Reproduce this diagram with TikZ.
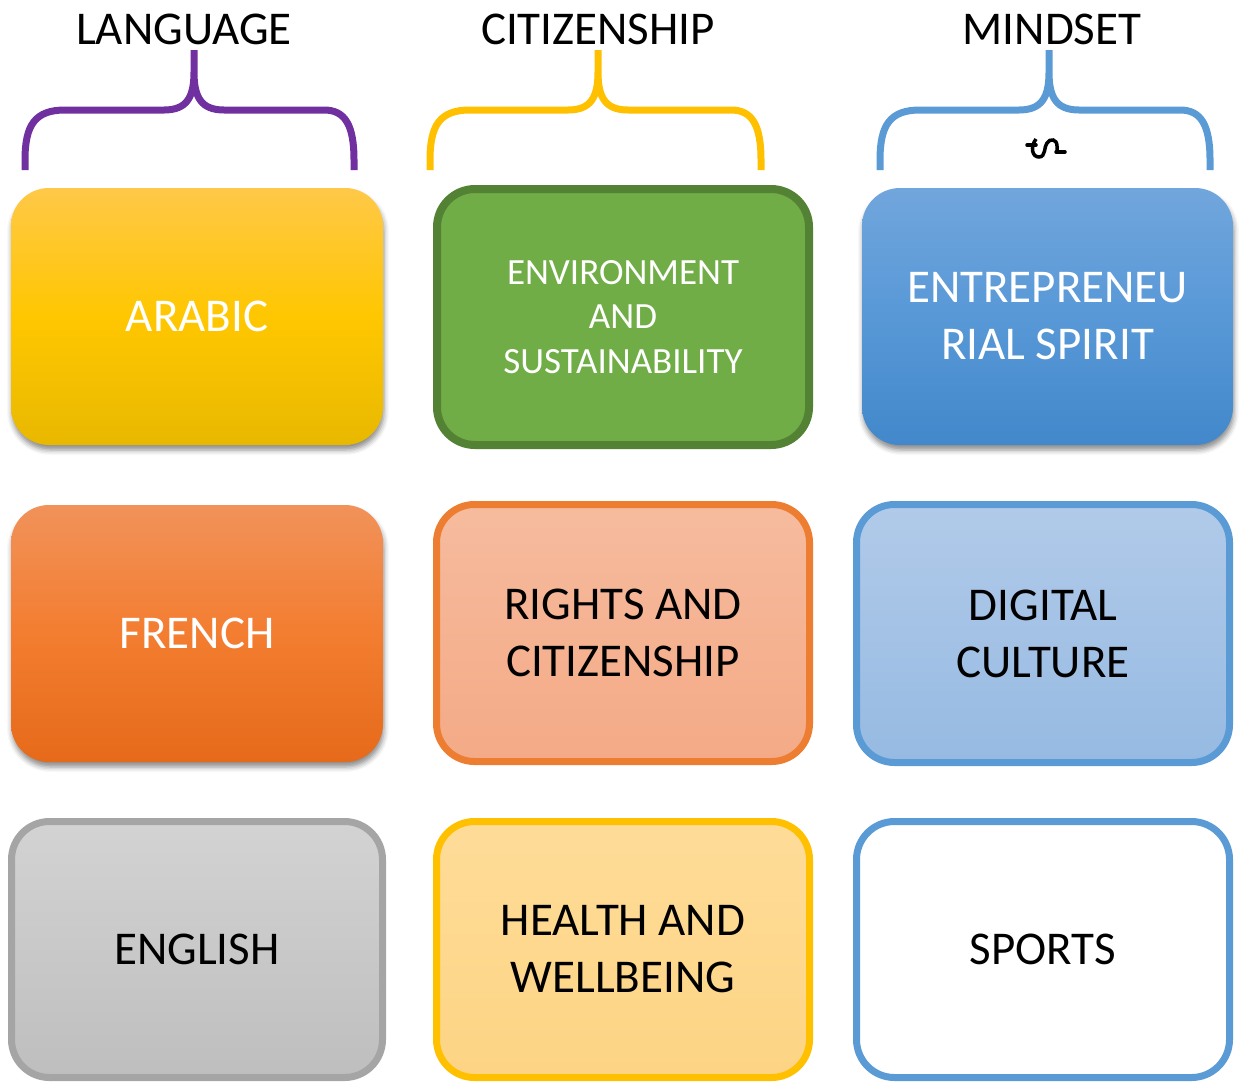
\documentclass[tikz,border=0pt]{standalone}
\usepackage{fontspec}
\setmainfont{Carlito}
\usetikzlibrary{shadows.blur}
\definecolor{cpurple}{RGB}{112,48,160}
\definecolor{cyellow}{RGB}{255,192,0}
\definecolor{cblue}{RGB}{91,155,213}
\definecolor{cgreen}{RGB}{112,173,71}
\definecolor{cdgreen}{RGB}{84,130,53}
\definecolor{corange}{RGB}{237,125,49}
\definecolor{cgray}{RGB}{165,165,165}
\tikzset{
  box/.style={rectangle, rounded corners=38pt, align=center, inner sep=0pt,
    font=\fontsize{47}{57}\selectfont},
  shadowed/.style={blur shadow={shadow xshift=1pt, shadow yshift=-5pt,
    shadow blur radius=5pt, shadow opacity=45}},
  brace/.style={line width=7pt},
  title/.style={anchor=base, font=\fontsize{47}{57}\selectfont},
}
\begin{document}
\begin{tikzpicture}[x=1pt,y=-1pt]
\useasboundingbox (0,0) rectangle (1241,1088);
% titles
\node[title] (tlang) at (184,44) {LANGUAGE};
\node[title] (tcit) at (598,44) {CITIZENSHIP};
\node[title] (tmind) at (1052,44) {MINDSET};
% braces
\draw[brace, cpurple] (25,170) -- (25,160) .. controls (25,125) and (35,110) .. (65,110)
  -- (164,110) .. controls (187,110) and (194,97) .. (194,72) -- (194,50)
  (194,72) .. controls (194,97) and (201,110) .. (224,110) -- (324,110)
  .. controls (345,110) and (354,125) .. (354,160) -- (354,170);
\draw[brace, cyellow] (430,170) -- (430,160) .. controls (430,125) and (440,110) .. (470,110)
  -- (568,110) .. controls (591,110) and (598,97) .. (598,72) -- (598,50)
  (598,72) .. controls (598,97) and (605,110) .. (628,110) -- (731,110)
  .. controls (752,110) and (761,125) .. (761,160) -- (761,170);
\draw[brace, cblue] (880,170) -- (880,160) .. controls (880,125) and (890,110) .. (920,110)
  -- (1019,110) .. controls (1042,110) and (1049,97) .. (1049,72) -- (1049,50)
  (1049,72) .. controls (1049,97) and (1056,110) .. (1079,110) -- (1180,110)
  .. controls (1201,110) and (1210,125) .. (1210,160) -- (1210,170);
% small mark
\draw[line width=3.5pt, line cap=round] (1027,145) -- (1036,145);
\draw[line width=3.5pt] (1036,139) .. controls (1030,147) and (1032,157) .. (1039,157)
  .. controls (1046,157) and (1044,146) .. (1047,143)
  .. controls (1050,138) and (1057,139) .. (1057,146) -- (1057,152);
\draw[line width=3.5pt, line cap=round] (1056,152) -- (1065,152);
% row 1
\node[box, shadowed, top color={rgb,255:red,255;green,200;blue,72},
  bottom color={rgb,255:red,232;green,184;blue,0}, middle color={rgb,255:red,255;green,199;blue,0},
  minimum width=372pt, minimum height=257pt, text=white] (arabic) at (197,316.5) {ARABIC};
\node[box, fill=cgreen, draw=cdgreen, line width=8pt,
  minimum width=372pt, minimum height=256pt, text=white,
  font=\fontsize{37}{44.5}\selectfont] (env) at (623,317) {ENVIRONMENT\\AND\\SUSTAINABILITY};
\node[box, shadowed, top color={rgb,255:red,113;green,166;blue,220},
  bottom color={rgb,255:red,66;green,136;blue,202}, middle color={rgb,255:red,88;green,152;blue,215},
  minimum width=371pt, minimum height=257pt, text=white] (entre) at (1047.5,316.5) {ENTREPRENEU\\RIAL SPIRIT};
% row 2
\node[box, shadowed, top color={rgb,255:red,241;green,146;blue,90},
  bottom color={rgb,255:red,230;green,106;blue,26}, middle color={rgb,255:red,243;green,125;blue,48},
  minimum width=372pt, minimum height=257pt, text=white] (french) at (197,633.5) {FRENCH};
\node[box, top color={rgb,255:red,246;green,187;blue,158},
  bottom color={rgb,255:red,244;green,170;blue,134}, draw=corange, line width=7pt,
  minimum width=373pt, minimum height=257pt] (rights) at (623,633) {RIGHTS AND\\CITIZENSHIP};
\node[box, top color={rgb,255:red,177;green,202;blue,233},
  bottom color={rgb,255:red,150;green,186;blue,226}, draw=cblue, line width=7pt,
  minimum width=373pt, minimum height=258pt] (digital) at (1043,633.5) {DIGITAL\\CULTURE};
% row 3
\node[box, top color={rgb,255:red,211;green,211;blue,211},
  bottom color={rgb,255:red,190;green,190;blue,190}, draw=cgray, line width=7pt,
  minimum width=371pt, minimum height=256pt] (english) at (197,949.5) {ENGLISH};
\node[box, top color={rgb,255:red,254;green,220;blue,152},
  bottom color={rgb,255:red,253;green,212;blue,132}, draw=cyellow, line width=7pt,
  minimum width=373pt, minimum height=256pt] (health) at (623,949.5) {HEALTH AND\\WELLBEING};
\node[box, fill=white, draw=cblue, line width=7pt,
  minimum width=373pt, minimum height=256pt] (sports) at (1043,949.5) {SPORTS};
\end{tikzpicture}
\end{document}
